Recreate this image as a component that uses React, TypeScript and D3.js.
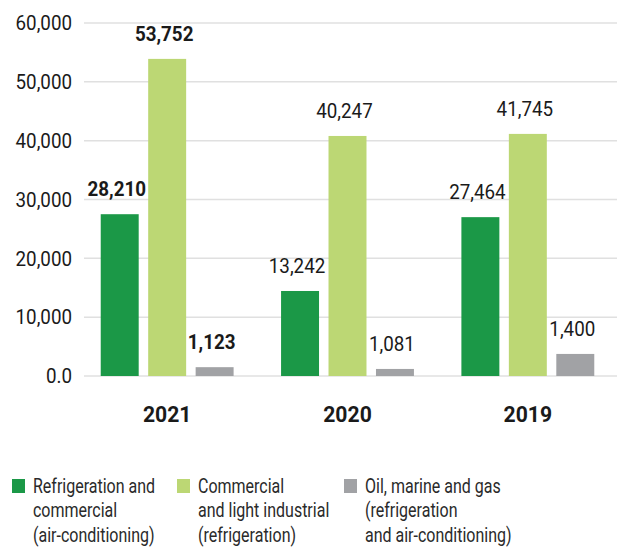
import React, { useEffect, useRef } from "react";
import * as d3 from "d3";

// chart data
const years = ["2021", "2020", "2019"];
const seriesKeys = ["refrig", "commercial", "oil"];
const seriesColors = ["#1b9847", "#bcd774", "#a1a2a5"];
const seriesLabels = [
  ["Refrigeration and", "commercial", "(air-conditioning)"],
  ["Commercial", "and light industrial", "(refrigeration)"],
  ["Oil, marine and gas", "(refrigeration", "and air-conditioning)"],
];
// bar heights as drawn in the picture
const refrigValues = [27500, 14450, 27000];
const commercialValues = [53900, 40800, 41150];
const oilValues = [1500, 1200, 3750];
// printed value labels
const refrigLabels = ["28,210", "13,242", "27,464"];
const commercialLabels = ["53,752", "40,247", "41,745"];
const oilLabels = ["1,123", "1,081", "1,400"];
const yTicks = [0, 10000, 20000, 30000, 40000, 50000, 60000];

const W = 622;
const H = 549;
const FONT = "Roboto, 'Liberation Sans', sans-serif";
// the original type is a condensed grotesque; squeeze Roboto a little
const SQUEEZE = 0.94;
const LEGEND_SQUEEZE = 0.8;

const App: React.FC = () => {
  const svgRef = useRef<SVGSVGElement>(null);

  useEffect(() => {
    if (!svgRef.current) return;
    const svg = d3.select(svgRef.current);
    svg.selectAll("*").remove();

    const values = [refrigValues, commercialValues, oilValues];
    const labels = [refrigLabels, commercialLabels, oilLabels];

    const y = d3.scaleLinear().domain([0, 60000]).range([376, 23]);
    const x0 = d3.scaleBand().domain(years).range([77, 618]);
    const x1 = d3
      .scaleBand()
      .domain(seriesKeys)
      .range([0, x0.bandwidth()])
      .paddingInner(0.2)
      .paddingOuter(0.5);

    // grid lines + y tick labels
    const grid = svg.append("g");
    grid
      .selectAll("line")
      .data(yTicks)
      .enter()
      .append("line")
      .attr("x1", 84)
      .attr("x2", 617)
      .attr("y1", (d) => y(d))
      .attr("y2", (d) => y(d))
      .attr("stroke", "#e0e0e0")
      .attr("stroke-width", 1.5);

    grid
      .selectAll("text")
      .data(yTicks)
      .enter()
      .append("text")
      .attr("transform", (d) => `translate(72, ${y(d)}) scale(${SQUEEZE}, 1)`)
      .attr("dy", "0.36em")
      .attr("text-anchor", "end")
      .style("font-family", FONT)
      .style("font-size", "20px")
      .style("fill", "#1a1a1a")
      .text((d) => (d === 0 ? "0.0" : d3.format(",")(d)));

    // bars
    seriesKeys.forEach((key, si) => {
      const g = svg.append("g").attr("class", `series-${key}`);
      const bold = years.map((yr) => yr === "2021");

      g.selectAll("rect")
        .data(years)
        .enter()
        .append("rect")
        .attr("x", (d) => (x0(d) as number) + (x1(key) as number))
        .attr("y", (d, i) => y(values[si][i]))
        .attr("width", x1.bandwidth())
        .attr("height", (d, i) => y(0) - y(values[si][i]))
        .attr("fill", seriesColors[si]);

      g.selectAll("text")
        .data(years)
        .enter()
        .append("text")
        .attr("transform", (d, i) => {
          const cx = (x0(d) as number) + (x1(key) as number) + x1.bandwidth() / 2 - 3;
          return `translate(${cx}, ${y(values[si][i]) - 18}) scale(${SQUEEZE}, 1)`;
        })
        .attr("text-anchor", "middle")
        .style("font-family", FONT)
        .style("font-size", "20px")
        .style("font-weight", (d, i) => (bold[i] ? "bold" : "normal"))
        .style("fill", "#1a1a1a")
        .text((d, i) => labels[si][i]);
    });

    // year labels
    svg
      .append("g")
      .selectAll("text")
      .data(years)
      .enter()
      .append("text")
      .attr("transform", (d) => `translate(${(x0(d) as number) + x0.bandwidth() / 2}, 422) scale(${SQUEEZE}, 1)`)
      .attr("text-anchor", "middle")
      .style("font-family", FONT)
      .style("font-size", "22.5px")
      .style("font-weight", "bold")
      .style("fill", "#1a1a1a")
      .text((d) => d);

    // legend
    const legendX = [12, 177, 344];
    const legend = svg
      .append("g")
      .selectAll("g")
      .data(seriesKeys)
      .enter()
      .append("g")
      .attr("transform", (d, i) => `translate(${legendX[i]}, 479)`);

    legend
      .append("rect")
      .attr("width", 13)
      .attr("height", 14)
      .attr("fill", (d, i) => seriesColors[i]);

    legend
      .append("text")
      .attr("transform", `translate(21, 14) scale(${LEGEND_SQUEEZE}, 1)`)
      .style("font-family", FONT)
      .style("font-size", "20px")
      .style("fill", "#2a2a2a")
      .selectAll("tspan")
      .data((d, i) => seriesLabels[i])
      .enter()
      .append("tspan")
      .attr("x", 0)
      .attr("dy", (d, i) => (i === 0 ? 0 : 24.3))
      .text((d) => d);
  }, []);

  return (
    <svg
      ref={svgRef}
      width={W}
      height={H}
      style={{ position: "absolute", left: 0, top: 0, background: "#fff" }}
    />
  );
};

export default App;
